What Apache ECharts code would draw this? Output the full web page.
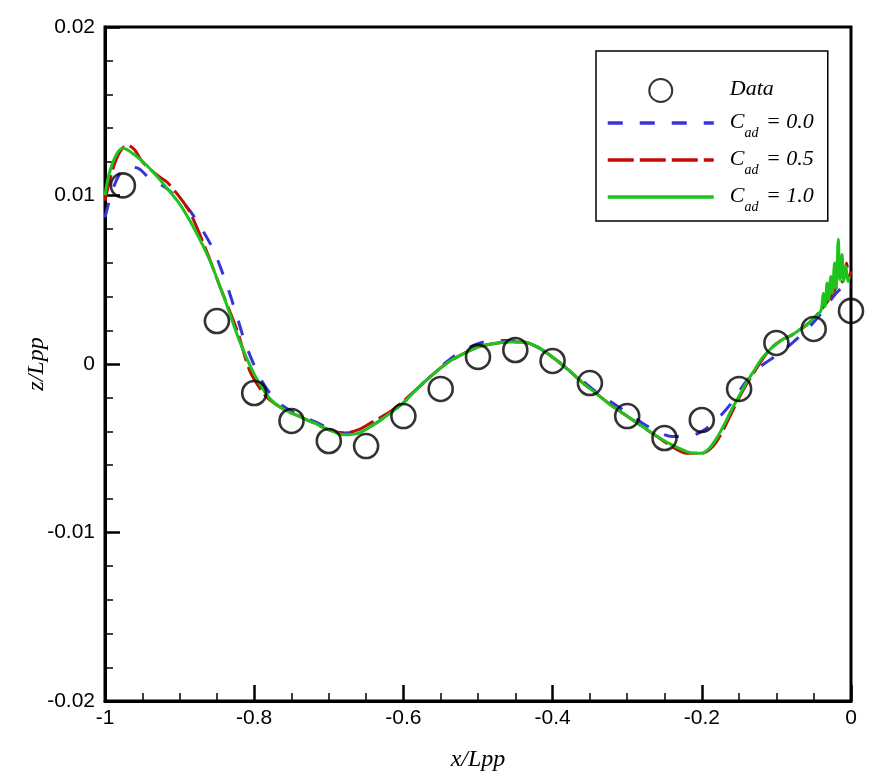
<!DOCTYPE html>
<html>
<head>
<meta charset="utf-8">
<script src="https://cdn.jsdelivr.net/npm/echarts@6/dist/echarts.min.js"></script>
<style>html,body{margin:0;padding:0;background:#fff;}#c{width:879px;height:781px;}</style>
</head>
<body>
<div id="c"></div>
<script>
// Measured data points
const dataX = [-0.976,-0.85,-0.80,-0.75,-0.70,-0.65,-0.60,-0.55,-0.50,-0.45,-0.40,-0.35,-0.30,-0.25,-0.20,-0.15,-0.10,-0.05,0.0];
const dataY = [0.0106,0.00255,-0.00172,-0.00338,-0.00457,-0.00487,-0.00309,-0.00148,0.00042,0.00083,0.00018,-0.00113,-0.00309,-0.00439,-0.00332,-0.00148,0.00125,0.00208,0.00315];

// Cad = 0.0 (blue dashed)
const c0X = [-1.0,-0.99,-0.98,-0.97,-0.955,-0.94,-0.92,-0.909,-0.89,-0.877,-0.855,-0.836,-0.823,-0.81,-0.79,-0.77,-0.75,-0.72,-0.70,-0.68,-0.66,-0.64,-0.62,-0.60,-0.58,-0.56,-0.54,-0.52,-0.50,-0.48,-0.46,-0.44,-0.42,-0.40,-0.38,-0.36,-0.34,-0.32,-0.30,-0.28,-0.26,-0.24,-0.22,-0.20,-0.18,-0.16,-0.14,-0.12,-0.10,-0.08,-0.06,-0.04,-0.02,0.0];
const c0Y = [0.0087,0.0103,0.0113,0.0117,0.0116,0.0110,0.0105,0.0101,0.0093,0.0085,0.0068,0.0046,0.0028,0.0010,-0.0010,-0.0022,-0.0028,-0.0034,-0.0038,-0.0041,-0.0040,-0.0036,-0.0030,-0.0023,-0.0014,-0.0006,0.0002,0.0008,0.0012,0.0014,0.0014,0.0013,0.0010,0.0004,-0.0003,-0.0010,-0.0017,-0.0023,-0.0029,-0.0035,-0.0040,-0.0043,-0.0043,-0.0040,-0.0033,-0.0023,-0.0010,-0.0001,0.0005,0.0012,0.0020,0.0030,0.0042,0.0050];

// Cad = 0.5 (red dashed)
const c5X = [-1.0,-0.99,-0.98,-0.97,-0.96,-0.95,-0.93,-0.917,-0.90,-0.886,-0.863,-0.846,-0.823,-0.806,-0.79,-0.78,-0.76,-0.74,-0.72,-0.70,-0.68,-0.66,-0.64,-0.62,-0.60,-0.58,-0.56,-0.54,-0.52,-0.50,-0.48,-0.46,-0.44,-0.42,-0.40,-0.38,-0.36,-0.34,-0.32,-0.30,-0.28,-0.26,-0.24,-0.22,-0.20,-0.19,-0.18,-0.17,-0.16,-0.15,-0.14,-0.13,-0.12,-0.11,-0.10,-0.09,-0.08,-0.07,-0.06,-0.05,-0.04,-0.03,-0.02,-0.01,-0.006,-0.003,0.0];
const c5Y = [0.0097,0.0115,0.0126,0.0130,0.0127,0.0120,0.0112,0.0108,0.0099,0.0090,0.0066,0.0046,0.0020,-0.0004,-0.0016,-0.0021,-0.0027,-0.0031,-0.0035,-0.0039,-0.0041,-0.0039,-0.0034,-0.0029,-0.0022,-0.0014,-0.0006,0.0001,0.0006,0.0010,0.0012,0.0013,0.0013,0.0010,0.0004,-0.0003,-0.0011,-0.0018,-0.0025,-0.0031,-0.0037,-0.0043,-0.0049,-0.0053,-0.0053,-0.0051,-0.0046,-0.0038,-0.0029,-0.0020,-0.0012,-0.0005,0.0002,0.0008,0.0012,0.0015,0.0017,0.0020,0.0023,0.0027,0.0032,0.0038,0.0045,0.0050,0.0060,0.0050,0.0055];

// Cad = 1.0 (green solid)
const c1X = [-1.0,-0.995,-0.985,-0.976,-0.96,-0.94,-0.92,-0.90,-0.88,-0.86,-0.84,-0.82,-0.80,-0.78,-0.76,-0.74,-0.72,-0.70,-0.68,-0.66,-0.64,-0.62,-0.60,-0.58,-0.56,-0.54,-0.52,-0.50,-0.48,-0.46,-0.44,-0.42,-0.40,-0.38,-0.36,-0.34,-0.32,-0.30,-0.28,-0.26,-0.24,-0.22,-0.21,-0.20,-0.19,-0.18,-0.17,-0.16,-0.15,-0.14,-0.13,-0.12,-0.11,-0.10,-0.09,-0.08,-0.07,-0.06,-0.05,-0.045,-0.04,-0.037,-0.035,-0.032,-0.03,-0.027,-0.025,-0.022,-0.02,-0.017,-0.015,-0.012,-0.01,-0.007,-0.004,-0.002];
const c1Y = [0.0100,0.0112,0.0124,0.0128,0.0124,0.0116,0.0106,0.0095,0.0080,0.0062,0.0039,0.0014,-0.0006,-0.0020,-0.0027,-0.0031,-0.0035,-0.0039,-0.0042,-0.0041,-0.0036,-0.0030,-0.0023,-0.0014,-0.0006,0.0001,0.0006,0.0010,0.0012,0.0013,0.0013,0.0010,0.0004,-0.0003,-0.0011,-0.0018,-0.0025,-0.0031,-0.0037,-0.0043,-0.0048,-0.0052,-0.0053,-0.0053,-0.0050,-0.0044,-0.0036,-0.0027,-0.0019,-0.0011,-0.0004,0.0003,0.0008,0.0012,0.0015,0.0017,0.0020,0.0023,0.0027,0.0029,0.0032,0.0042,0.0034,0.0048,0.0038,0.0052,0.0042,0.0060,0.0045,0.0074,0.0050,0.0065,0.0049,0.0058,0.0049,0.0052];

const xTicks = [-1,-0.8,-0.6,-0.4,-0.2,0];
const yTicks = [-0.02,-0.01,0,0.01,0.02];
const names = ['Data','C_ad = 0.0','C_ad = 0.5','C_ad = 1.0'];
const colors = ['#000000','#3535d8','#c40a0a','#1ec31e'];

const zip = (xs, ys) => xs.map((x, i) => [x, ys[i]]);
const serif = 'Liberation Serif';
const sans = 'Liberation Sans';

const chart = echarts.init(document.getElementById('c'), null, {renderer: 'canvas'});
const lineSeries = (name, xs, ys, color, type) => ({
  name, type: 'line', data: zip(xs, ys), symbol: 'none', showSymbol: false,
  smooth: 0.3, z: 2,
  itemStyle: {color},
  lineStyle: {color, width: 3, type}
});
const hiddenDot = {opacity: 0, color: 'rgba(0,0,0,0)', borderWidth: 0};
chart.setOption({
  animation: false,
  backgroundColor: '#fff',
  grid: {left: 105, right: 28, top: 27, bottom: 80, show: true, borderColor: '#000', borderWidth: 3, backgroundColor: 'transparent'},
  xAxis: {
    type: 'value', min: -1, max: 0, interval: 0.2,
    name: 'x/Lpp', nameLocation: 'middle', nameGap: 47, nameMoveOverlap: false,
    nameTextStyle: {fontFamily: serif, fontStyle: 'italic', fontSize: 24, color: '#000'},
    axisLine: {show: true, onZero: false, lineStyle: {color: '#000', width: 3}},
    axisTick: {show: true, inside: true, length: 16, lineStyle: {color: '#000', width: 2.5}},
    minorTick: {show: true, splitNumber: 4, length: 8, lineStyle: {color: '#000', width: 1.5}},
    splitLine: {show: false},
    axisLabel: {color: '#000', fontFamily: sans, fontSize: 21, margin: 7,
      formatter: v => { const t = xTicks.find(k => Math.abs(k - v) < 1e-9); return t === undefined ? '' : String(t); }}
  },
  yAxis: {
    type: 'value', min: -0.02, max: 0.02, interval: 0.01,
    name: 'z/Lpp', nameLocation: 'middle', nameGap: 56, nameRotate: 90, nameMoveOverlap: false,
    nameTextStyle: {fontFamily: serif, fontStyle: 'italic', fontSize: 24, color: '#000'},
    axisLine: {show: true, onZero: false, lineStyle: {color: '#000', width: 3}},
    axisTick: {show: true, inside: true, length: 15, lineStyle: {color: '#000', width: 2.5}},
    minorTick: {show: true, splitNumber: 5, length: 8, lineStyle: {color: '#000', width: 1.5}},
    splitLine: {show: false},
    axisLabel: {color: '#000', fontFamily: sans, fontSize: 21, margin: 10,
      formatter: v => { const t = yTicks.find(k => Math.abs(k - v) < 1e-9); return t === undefined ? '' : String(t); }}
  },
  legend: {
    orient: 'vertical', left: 596, top: 51,
    padding: [27, 14, 7, 10], itemGap: 8, itemWidth: 106, itemHeight: 23,
    borderColor: '#000', borderWidth: 1.5, backgroundColor: '#fff',
    lineStyle: {width: 3.5},
    data: [
      {name: names[0]},
      {name: names[1], itemStyle: hiddenDot},
      {name: names[2], itemStyle: hiddenDot},
      {name: names[3], itemStyle: hiddenDot}
    ],
    formatter: n => {
      if (n === 'Data') return '{g|}{i|Data}';
      const v = n.split('= ')[1];
      return '{g|}{i|C}{s|ad}{i| = ' + v + '}';
    },
    textStyle: {
      color: '#000',
      rich: {
        g: {width: 11},
        i: {fontFamily: serif, fontStyle: 'italic', fontSize: 22, color: '#000', verticalAlign: 'top', lineHeight: 24},
        s: {fontFamily: serif, fontStyle: 'italic', fontSize: 14, color: '#000', verticalAlign: 'top', lineHeight: 14, padding: [15, 2, 0, 0]}
      }
    }
  },
  series: [
    lineSeries(names[1], c0X, c0Y, colors[1], [15, 17]),
    lineSeries(names[2], c5X, c5Y, colors[2], [26, 6]),
    lineSeries(names[3], c1X, c1Y, colors[3], 'solid'),
    {
      name: names[0], type: 'scatter', data: zip(dataX, dataY), z: 3,
      symbol: 'circle', symbolSize: 24,
      itemStyle: {color: 'rgba(0,0,0,0)', borderColor: colors[0], borderWidth: 2.6}
    }
  ]
});
</script>
</body>
</html>
